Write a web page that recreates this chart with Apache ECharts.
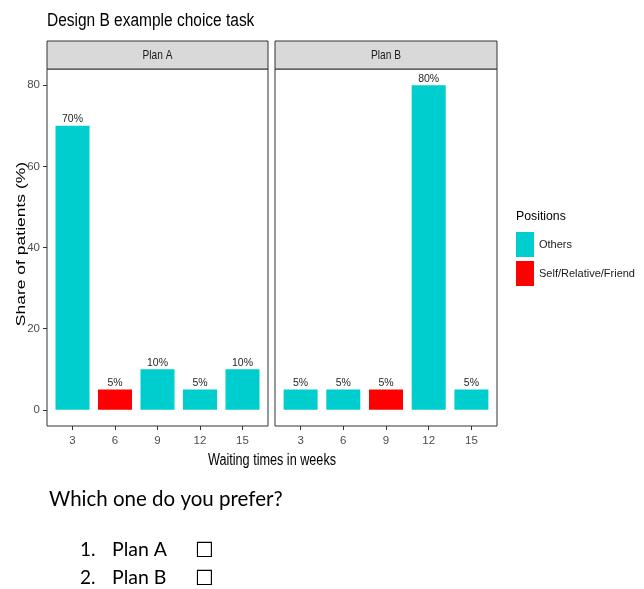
<!DOCTYPE html>
<html><head><meta charset="utf-8">
<script src="https://cdn.jsdelivr.net/npm/echarts@6/dist/echarts.min.js"></script>
<style>html,body{margin:0;padding:0;background:#fff}#c{width:644px;height:589px}</style>
</head><body><div id="c"></div>
<script>
const plans = ['Plan A', 'Plan B'];
const waitTimes = ['3', '6', '9', '12', '15'];
const planAShares = [70, 5, 10, 5, 10];
const planBShares = [5, 5, 5, 80, 5];
const planAPositions = ['Others', 'Self/Relative/Friend', 'Others', 'Others', 'Others'];
const planBPositions = ['Others', 'Others', 'Self/Relative/Friend', 'Others', 'Others'];
const positionNames = ['Others', 'Self/Relative/Friend'];
const yTicks = [0, 20, 40, 60, 80];
const choices = ['Plan A', 'Plan B'];

const SANS = '"Liberation Sans", Arial, sans-serif';
const BODY = 'Lato, "Open Sans", sans-serif';
const colors = { 'Others': '#00CDCD', 'Self/Relative/Friend': '#FF0000' };
const panels = [{ left: 47, width: 221 }, { left: 275, width: 222 }];
const gTop = 69, gHeight = 357;
const xPos = waitTimes.map((_, i) => i + 1);
const shares = [planAShares, planBShares];
const positions = [planAPositions, planBPositions];

const series = [];
plans.forEach((plan, gi) => {
  positionNames.forEach(pos => {
    series.push({
      type: 'bar', name: pos, xAxisIndex: gi, yAxisIndex: gi,
      barWidth: 34, barGap: '-100%',
      itemStyle: { color: colors[pos] },
      label: { show: true, position: 'top', distance: 1, formatter: p => p.value[1] + '%',
        fontSize: 10.5, color: '#262626', fontFamily: SANS },
      data: waitTimes.map((w, i) => positions[gi][i] === pos ? [i + 1, shares[gi][i]] : null).filter(d => d)
    });
  });
});

const graphics = [];
graphics.push({ type: 'text', x: 47, y: 21, scaleX: 0.86, style: { text: 'Design B example choice task', textVerticalAlign: 'middle', fontSize: 18, fontFamily: SANS, fill: '#000' } });
plans.forEach((plan, gi) => {
  graphics.push({ type: 'rect', shape: { x: panels[gi].left, y: 41, width: panels[gi].width, height: 28 },
    style: { fill: '#D9D9D9', stroke: '#333', lineWidth: 1 } });
  graphics.push({ type: 'text', x: panels[gi].left + panels[gi].width / 2, y: 55, scaleX: 0.78,
    style: { text: plan, textAlign: 'center', textVerticalAlign: 'middle', fontSize: 13, fontFamily: SANS, fill: '#1A1A1A' } });
});
graphics.push({ type: 'text', x: 272, y: 461, scaleX: 0.79, style: { text: 'Waiting times in weeks', textAlign: 'center', textVerticalAlign: 'middle', fontSize: 16, fontFamily: SANS, fill: '#000' } });
graphics.push({ type: 'text', x: 21, y: 244, rotation: Math.PI / 2, scaleY: 0.78, style: { text: 'Share of patients (%)', textAlign: 'center', textVerticalAlign: 'middle', fontSize: 17.5, fontFamily: SANS, fill: '#000' } });
graphics.push({ type: 'text', x: 516, y: 216, scaleX: 0.91, style: { text: 'Positions', textVerticalAlign: 'middle', fontSize: 13.5, fontFamily: SANS, fill: '#000' } });
graphics.push({ type: 'text', x: 49, y: 499, style: { text: 'Which one do you prefer?', textVerticalAlign: 'middle', fontSize: 20.5, fontFamily: BODY, fill: '#000' } });
choices.forEach((c, i) => {
  const y = 550 + i * 28;
  graphics.push({ type: 'text', x: 80, y: y, style: { text: (i + 1) + '.', textVerticalAlign: 'middle', fontSize: 19, fontFamily: BODY, fill: '#000' } });
  graphics.push({ type: 'text', x: 112, y: y, style: { text: c, textVerticalAlign: 'middle', fontSize: 19.5, fontFamily: BODY, fill: '#000' } });
  graphics.push({ type: 'text', x: 195, y: y + 2, style: { text: '\u2610', textVerticalAlign: 'middle', fontSize: 21, fontFamily: '"DejaVu Sans", sans-serif', fill: '#000' } });
});

const option = {
  animation: false,
  backgroundColor: '#fff',
  legend: { orient: 'vertical', left: 511, top: 227, itemWidth: 18, itemHeight: 25, itemGap: 4, icon: 'rect',
    data: positionNames, textStyle: { fontSize: 11, fontFamily: SANS, color: '#1A1A1A' } },
  grid: panels.map(p => ({ left: p.left, top: gTop, width: p.width, height: gHeight, show: true,
    borderColor: '#333', borderWidth: 1, backgroundColor: '#fff' })),
  xAxis: plans.map((p, gi) => ({
    type: 'value', gridIndex: gi, min: 0.4, max: 5.6,
    axisLine: { show: false, onZero: false }, splitLine: { show: false },
    axisTick: { show: true, customValues: xPos, length: 4, lineStyle: { color: '#333' } },
    axisLabel: { customValues: xPos, formatter: v => waitTimes[Math.round(v) - 1], color: '#4D4D4D',
      fontSize: 11.5, fontFamily: SANS, margin: 9 }
  })),
  yAxis: plans.map((p, gi) => ({
    type: 'value', gridIndex: gi, min: -4, max: 84,
    axisLine: { show: false, onZero: false }, splitLine: { show: false },
    axisTick: { show: gi === 0, customValues: yTicks, length: 4, lineStyle: { color: '#333' } },
    axisLabel: { show: gi === 0, customValues: yTicks, color: '#4D4D4D', fontSize: 11.5, fontFamily: SANS, margin: 7 }
  })),
  series: series,
  graphic: graphics
};
const chart = echarts.init(document.getElementById('c'), null, { renderer: 'canvas' });
chart.setOption(option);
</script></body></html>
